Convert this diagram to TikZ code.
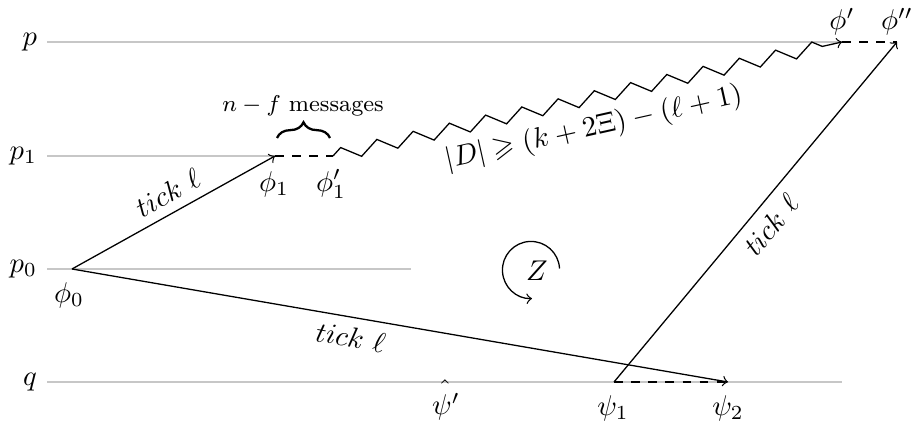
\documentclass[tikz,border=0pt]{standalone}
\usepackage{amssymb}
\usetikzlibrary{decorations.pathmorphing,decorations.pathreplacing}
\begin{document}
\begin{tikzpicture}[x=0.35pt,y=0.35pt,
  procline/.style={black!22, line width=0.5pt},
  msg/.style={->, black, line width=0.45pt},
  waitline/.style={dashed, black, line width=0.45pt},
  lbl/.style={inner sep=0pt}]
\useasboundingbox (0,0) rectangle (912,428);
% process lines
\coordinate (pL) at (47,386);  \coordinate (pR) at (842,386);
\coordinate (p1L) at (47,272); \coordinate (p1R) at (275,272);
\coordinate (p0L) at (47,159); \coordinate (p0R) at (411,159);
\coordinate (qL) at (47,46);   \coordinate (qR) at (842,46);
\draw[procline] (pL) -- (pR);
\draw[procline] (p1L) -- (p1R);
\draw[procline] (p0L) -- (p0R);
\draw[procline] (qL) -- (qR);
\node[left] (lp) at (pL) {$p$};
\node[left] (lp1) at (p1L) {$p_1$};
\node[left] (lp0) at (p0L) {$p_0$};
\node[left] (lq) at (qL) {$q$};
% events
\coordinate (phi0) at (72,159);
\coordinate (phi1) at (275,272);
\coordinate (phi1p) at (333,272);
\coordinate (phip) at (842,386);
\coordinate (phipp) at (897,386);
\coordinate (psi1) at (614,46);
\coordinate (psi2) at (728,46);
\coordinate (psip) at (445,46);
\node[lbl] (lphi0) at (69,133) {$\phi_0$};
\node[lbl] (lphi1) at (274,244) {$\phi_1$};
\node[lbl] (lphi1p) at (331,244) {$\phi_1'$};
\node[lbl] (lphip) at (842,406) {$\phi'$};
\node[lbl] (lphipp) at (897,406) {$\phi''$};
\node[lbl] (lpsi1) at (613,20) {$\psi_1$};
\node[lbl] (lpsi2) at (728,20) {$\psi_2$};
\node[lbl] (lpsip) at (446,21) {$\psi'$};
\node[inner sep=0pt, anchor=base] (hat) at (445,28) {$\hat{}$};
% messages
\draw[msg] (phi0) -- node[above, sloped, pos=0.52] {$tick~\ell$} (phi1);
\draw[msg] (phi0) -- node[below, sloped, pos=0.43] {$tick~\ell$} (psi2);
\draw[msg] (psi1) -- node[below, sloped, pos=0.5] {$tick~\ell$} (phipp);
\draw[waitline] (phi1) -- (phi1p);
\draw[waitline] (phip) -- (phipp);
\draw[waitline] (psi1) -- (psi2);
\draw[msg, decorate, decoration={zigzag, amplitude=2.3pt, segment length=13pt, post length=4pt}] (phi1p) -- (phip);
\path (phi1p) -- node[below=2pt, sloped, pos=0.5] {$|D| \geqslant (k+2\Xi) - (\ell+1)$} (phip);
% brace
\coordinate (bL) at (277,290);
\coordinate (bR) at (330,290);
\draw[thick, decorate, decoration={brace, amplitude=5.5pt}] (bL) -- (bR);
\node (nf) at (303,322) {\footnotesize $n-f$ messages};
% Z
\coordinate (zc) at (531,158);
\draw[->, line width=0.45pt] ([shift={(3:10pt)}]zc) arc (3:272:10pt);
\node (Z) at (537,157) {$Z$};
\end{tikzpicture}
\end{document}
